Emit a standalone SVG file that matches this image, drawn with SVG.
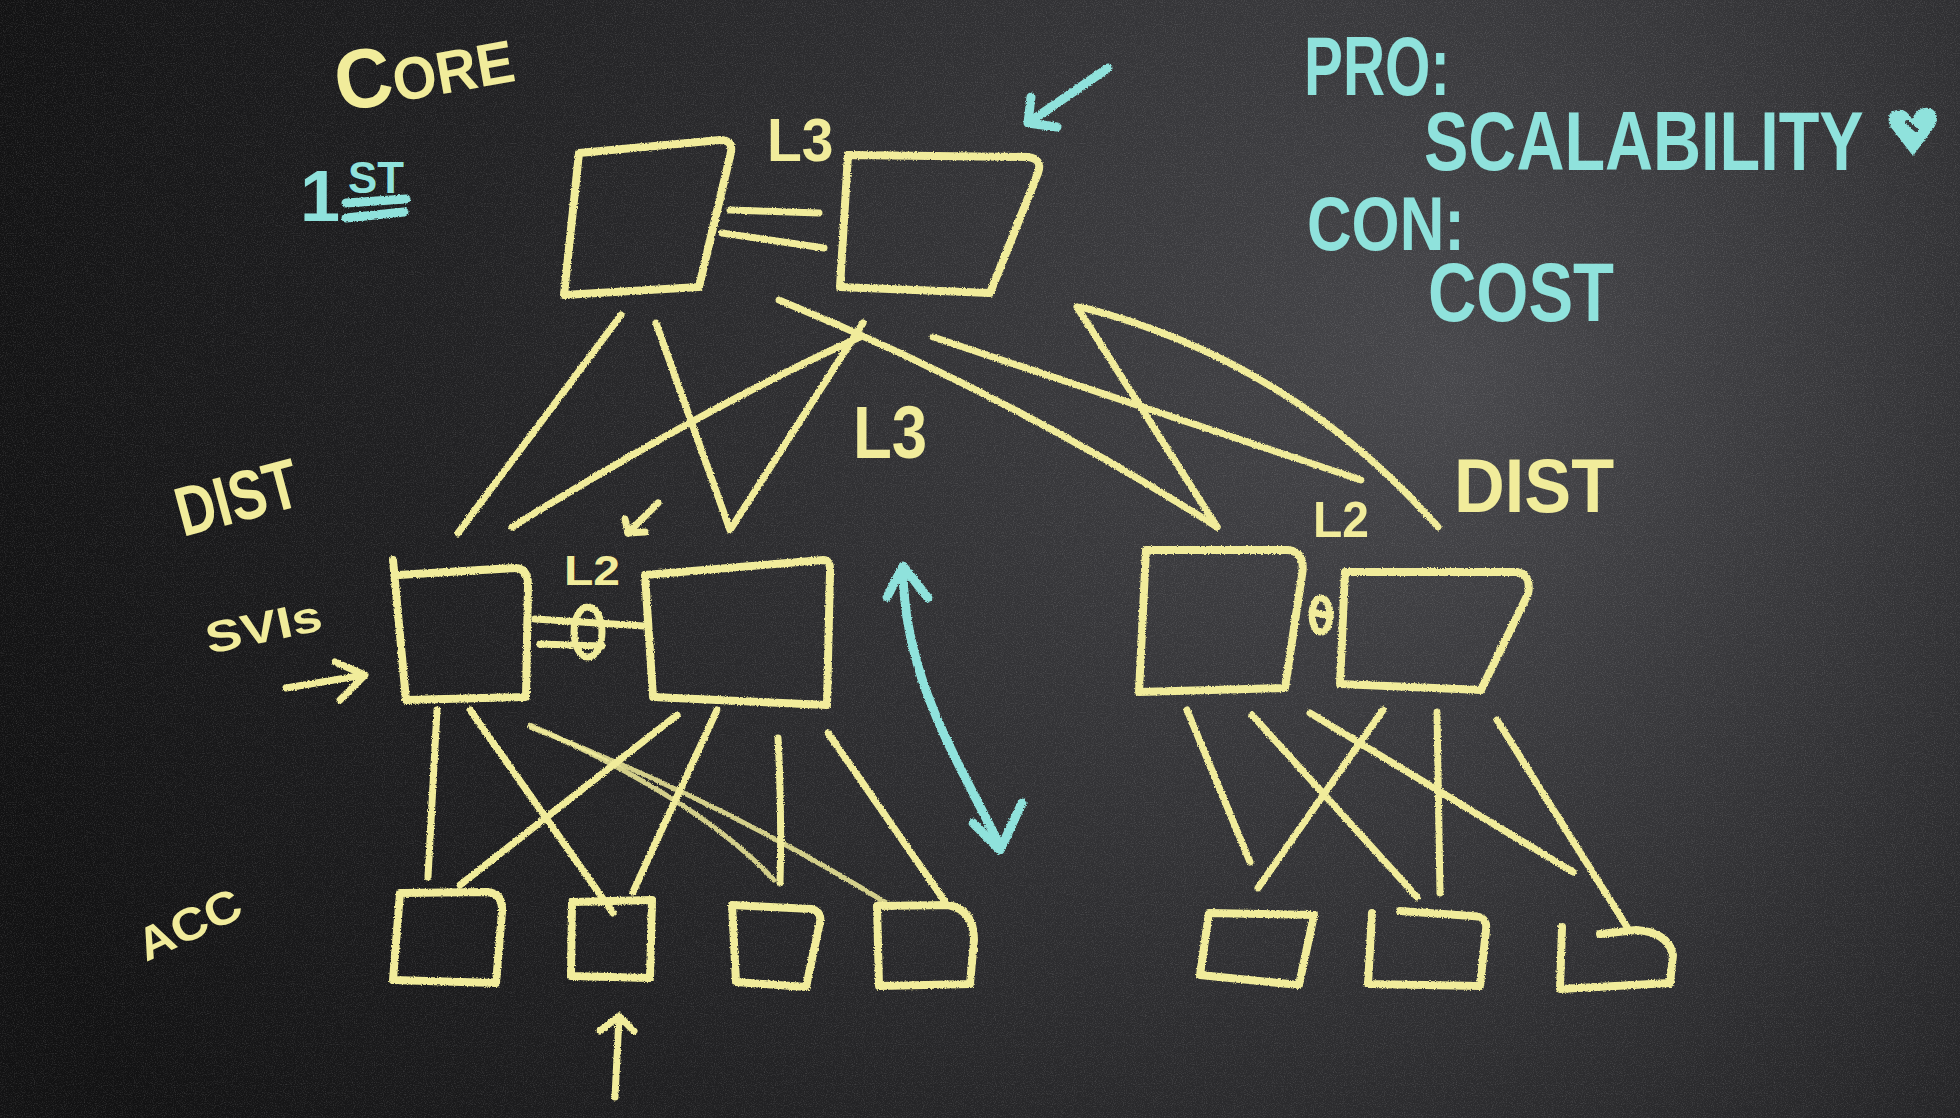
<svg xmlns="http://www.w3.org/2000/svg" width="1960" height="1118" viewBox="0 0 1960 1118">
<defs>
<radialGradient id="board" cx="1450" cy="380" r="1500" gradientUnits="userSpaceOnUse">
<stop offset="0" stop-color="#47474b"/>
<stop offset="0.35" stop-color="#333336"/>
<stop offset="0.7" stop-color="#1f1f21"/>
<stop offset="1" stop-color="#121213"/>
</radialGradient>
<filter id="grain" x="0" y="0" width="100%" height="100%">
<feTurbulence type="fractalNoise" baseFrequency="0.9" numOctaves="2" seed="7"/>
<feColorMatrix type="matrix" values="0 0 0 0 1  0 0 0 0 1  0 0 0 0 1  0 0 0 0.9 -0.42"/>
</filter>
<filter id="chalk" x="-10%" y="-10%" width="120%" height="120%">
<feTurbulence type="fractalNoise" baseFrequency="0.7" numOctaves="2" seed="3" result="n"/>
<feDisplacementMap in="SourceGraphic" in2="n" scale="3" xChannelSelector="R" yChannelSelector="G"/>
</filter>
<style>
.y{fill:none;stroke:#f1ec9b;stroke-width:8;stroke-linecap:round;stroke-linejoin:round}
.ln{fill:none;stroke:#f1ec9b;stroke-width:7;stroke-linecap:round;stroke-linejoin:round}
.faint{opacity:0.85;stroke-width:5}
.c{fill:none;stroke:#8fe2dc;stroke-width:9;stroke-linecap:round;stroke-linejoin:round}
.ty{fill:#f1ec9b;font-family:"Liberation Sans",Arial,sans-serif;font-weight:bold}
.tc{fill:#8fe2dc;font-family:"Liberation Sans",Arial,sans-serif;font-weight:bold}
</style>
</defs>
<rect width="1960" height="1118" fill="url(#board)"/>
<rect width="1960" height="1118" filter="url(#grain)" opacity="0.35"/>

<g id="connectors" filter="url(#chalk)">
<!-- core links -->
<path class="ln" d="M730,210 L819,213"/>
<path class="ln" d="M722,233 L824,248"/>
<!-- core to distribution -->
<path class="ln" d="M621,315 L458,533"/>
<path class="ln" d="M656,323 L730,530 L863,323"/>
<path class="ln" d="M512,527 Q704,408 860,337"/>
<path class="ln" d="M779,300 Q1010,395 1217,527"/>
<path class="ln" d="M933,337 L1361,480"/>
<path class="ln" d="M1077,307 L1217,527"/>
<path class="ln" d="M1081,307 Q1290,360 1438,527"/>
<!-- distribution pair links -->
<path class="ln" d="M535,619 L644,626"/>
<path class="ln" d="M540,644 L602,646"/>
<ellipse class="ln" cx="588" cy="632" rx="14" ry="25"/>
<ellipse class="ln" cx="1321" cy="615" rx="9" ry="17" stroke-width="6"/>
<path class="ln" d="M1312,612 L1330,616" stroke-width="5"/>
<!-- distribution to access (left) -->
<path class="ln" d="M437,710 L428,877"/>
<path class="ln" d="M470,710 L613,913"/>
<path class="ln faint" d="M530,725 Q700,800 774,880"/>
<path class="ln faint" d="M530,727 Q720,800 893,907"/>
<path class="ln" d="M677,715 L460,885"/>
<path class="ln" d="M717,710 L633,892"/>
<path class="ln" d="M778,738 Q782,810 780,883"/>
<path class="ln" d="M828,733 L946,903"/>
<!-- distribution to access (right) -->
<path class="ln" d="M1187,710 L1250,862"/>
<path class="ln" d="M1252,715 L1417,897"/>
<path class="ln" d="M1310,713 L1573,872"/>
<path class="ln" d="M1383,710 L1258,888"/>
<path class="ln" d="M1437,712 L1440,893"/>
<path class="ln" d="M1497,720 L1627,927"/>
</g>

<g filter="url(#chalk)">
<g id="core-l"><path class="y" d="M579,153 L720,140 Q733,140 731,152 L699,287 L564,295 Z"/></g>
<g id="core-r"><path class="y" d="M848,155 L1028,157 Q1043,159 1038,173 L990,293 L840,287 Z"/></g>
<g id="dist-l1"><path class="y" d="M393,560 L406,700 L526,697 L528,585 Q528,568 514,568 L398,575"/></g>
<g id="dist-l2"><path class="y" d="M645,575 L823,560 Q831,560 830,572 L827,705 L653,697 Z"/></g>
<g id="dist-r1"><path class="y" d="M1146,550 L1288,550 Q1306,552 1302,575 L1285,688 L1139,692 Z"/></g>
<g id="dist-r2"><path class="y" d="M1345,572 L1516,572 Q1532,574 1528,594 L1481,690 L1340,684 Z"/></g>
<g id="acc-l1"><path class="y" d="M400,893 L487,892 Q503,893 502,912 L496,983 L393,980 Z"/></g>
<g id="acc-l2"><path class="y" d="M572,902 L652,900 L650,978 L571,976 Z"/></g>
<g id="acc-l3"><path class="y" d="M732,905 L812,909 Q822,912 820,922 L806,987 L736,982 Z"/></g>
<g id="acc-l4"><path class="y" d="M877,906 L948,905 Q974,910 974,940 L970,984 L879,986 Z"/></g>
<g id="acc-r1"><path class="y" d="M1209,913 L1314,915 L1299,985 L1200,975 Z"/></g>
<g id="acc-r2"><path class="y" d="M1372,913 L1368,984 L1480,986 L1486,930 Q1488,916 1472,916 L1400,911"/></g>
<g id="acc-r3"><path class="y" d="M1562,927 L1560,989 L1670,983 L1673,955 Q1668,932 1636,930 L1600,934"/></g>
</g>

<g id="annotations" filter="url(#chalk)">
<!-- cyan arrow to core -->
<path class="c" d="M1108,68 L1031,121"/>
<path class="c" d="M1031,97 L1028,123 L1057,127"/>
<!-- cyan double arrow -->
<path class="c" d="M903,572 C905,680 958,760 1000,846"/>
<path class="c" d="M887,597 L903,566 L928,598"/>
<path class="c" d="M973,823 L1000,850 L1022,803"/>
<!-- yellow arrows -->
<path class="ln" d="M286,688 L364,675"/>
<path class="ln" d="M335,662 L365,675 L340,700"/>
<path class="ln" d="M658,503 L628,533" stroke-width="6"/>
<path class="ln" d="M625,519 L628,533 L645,532" stroke-width="6"/>
<path class="ln" d="M619,1017 L615,1097"/>
<path class="ln" d="M600,1031 L619,1016 L634,1031"/>
<!-- 1ST underline -->
<path class="c" d="M346,203 L406,199" stroke-width="7"/>
<path class="c" d="M346,218 L404,212" stroke-width="7"/>
<!-- scalability mark -->
<path d="M1913,156 L1890,126 Q1885,112 1897,110 Q1906,108 1912,119 Q1918,106 1929,108 Q1941,112 1935,126 Z" fill="#8fe2dc"/>
<path d="M1907,122 L1916,130" stroke="#3a3a3e" stroke-width="4" stroke-linecap="round"/>
</g>

<g id="labels">
<text class="ty" x="0" y="0" font-size="60" transform="translate(340,112) rotate(-10) scale(0.944,1)"><tspan font-size="84">C</tspan>ORE</text>
<text class="tc" font-size="72"><tspan x="300" y="221">1</tspan><tspan x="348" y="193" font-size="44" textLength="56" lengthAdjust="spacingAndGlyphs">ST</tspan></text>
<text class="ty" x="0" y="0" font-size="62" transform="translate(767,161) scale(0.92,1)">L3</text>
<text class="tc" x="0" y="0" font-size="84" transform="translate(1304,95) scale(0.695,1)">PRO:</text>
<text class="tc" x="0" y="0" font-size="84" transform="translate(1424,170) scale(0.792,1)">SCALABILITY</text>
<text class="tc" x="0" y="0" font-size="76" transform="translate(1307,250) scale(0.813,1)">CON:</text>
<text class="tc" x="0" y="0" font-size="84" transform="translate(1428,321) scale(0.797,1)">COST</text>
<text class="ty" x="0" y="0" font-size="70" transform="translate(183,537) rotate(-15) scale(0.784,1)">DIST</text>
<text class="ty" x="209" y="654" font-size="44" textLength="118" lengthAdjust="spacingAndGlyphs" transform="rotate(-12 209 654)">SVIs</text>
<text class="ty" x="564" y="585" font-size="42" textLength="56" lengthAdjust="spacingAndGlyphs">L2</text>
<text class="ty" x="0" y="0" font-size="74" transform="translate(853,458) scale(0.86,1)">L3</text>
<text class="ty" x="1313" y="537" font-size="50" textLength="56" lengthAdjust="spacingAndGlyphs">L2</text>
<text class="ty" x="0" y="0" font-size="76" transform="translate(1454,512) scale(0.925,1)">DIST</text>
<text class="ty" x="146" y="962" font-size="46" textLength="110" lengthAdjust="spacingAndGlyphs" transform="rotate(-25 146 962)">ACC</text>
</g>
</svg>
